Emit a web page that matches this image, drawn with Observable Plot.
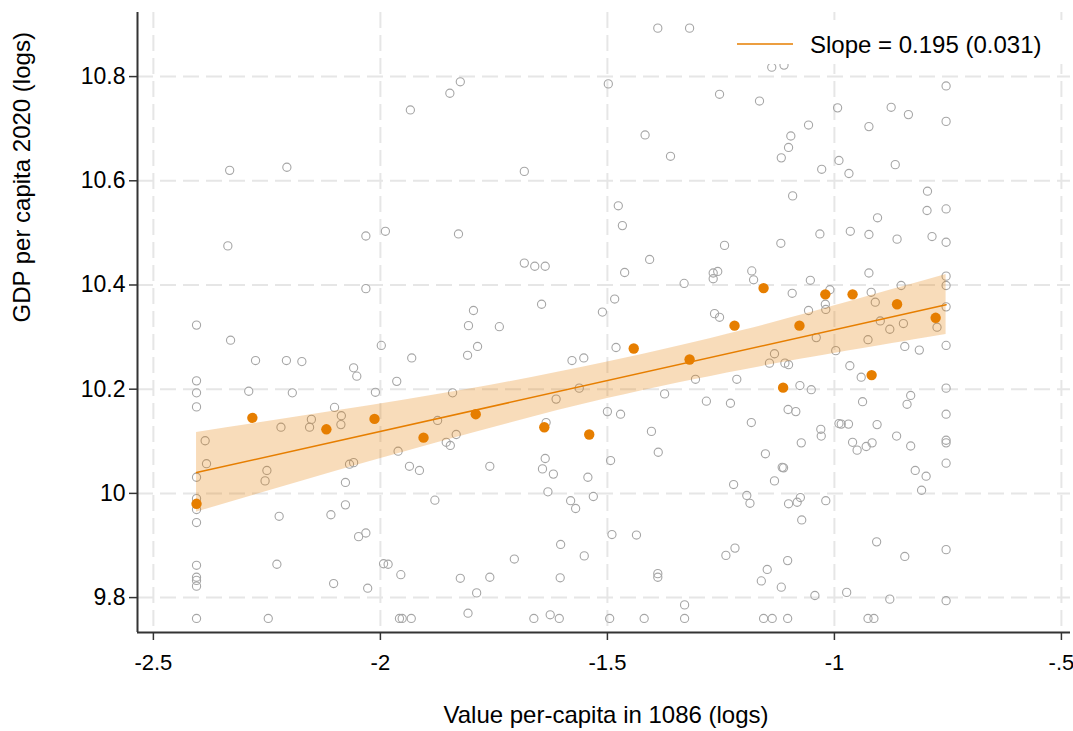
<!DOCTYPE html>
<html>
<head>
<meta charset="utf-8">
<script src="https://cdn.jsdelivr.net/npm/d3@7"></script>
<script src="https://cdn.jsdelivr.net/npm/@observablehq/plot@0.6"></script>
<style>
  html, body { margin: 0; padding: 0; background: white; }
  #wrap { position: relative; width: 1073px; height: 731px; font-family: "Liberation Sans", Arial, sans-serif; }
  #legend { position: absolute; left: 718px; top: 20px; }
</style>
</head>
<body>
<div id="wrap"></div>
<script>
// ---- data ----
const scatterX = [
-2.332,-2.206,-1.824,-1.847,-1.934,-1.683,-1.498,-1.389,-1.319,-1.138,
-1.111,-1.253,-1.165,-0.993,-1.417,-1.361,-1.057,-1.096,-1.101,-1.117,
-1.028,-0.990,-1.092,-1.476,-0.754,-0.875,-0.837,-0.924,-0.754,-0.968,
-0.866,-0.795,-0.796,-0.754,-0.905,-2.336,-2.032,-2.032,-2.405,-2.330,
-2.275,-2.207,-2.173,-2.059,-2.052,-2.405,-2.405,-2.290,-2.194,-2.011,
-2.405,-2.101,-2.086,-2.152,-2.087,-2.156,-2.219,-1.989,-1.828,-1.683,
-1.660,-1.637,-1.645,-1.511,-1.795,-1.806,-1.738,-1.998,-1.786,-1.808,
-1.931,-1.578,-1.552,-1.964,-1.841,-1.562,-1.613,-1.500,-1.874,-1.635,
-1.467,-1.407,-1.462,-1.242,-1.118,-1.032,-1.267,-1.257,-1.267,-1.182,
-1.178,-1.331,-1.053,-1.010,-1.093,-1.484,-1.264,-1.253,-1.057,-1.020,
-1.019,-1.040,-0.997,-1.481,-1.132,-1.143,-1.109,-1.101,-1.306,-1.215,
-1.076,-1.051,-1.374,-1.282,-1.229,-1.471,-1.102,-1.085,-1.183,-1.403,
-1.030,-0.990,-1.029,-1.073,-1.388,-1.493,-1.152,-1.115,-1.112,-1.132,
-1.222,-1.193,-1.186,-1.101,-1.082,-1.075,-1.019,-1.072,-1.490,-1.436,
-1.219,-1.239,-1.103,-1.148,-1.161,-1.117,-1.389,-1.389,-1.043,-1.330,
-1.495,-1.419,-1.330,-1.156,-1.137,-1.103,
-0.965,-0.924,-0.862,-0.785,-0.754,-0.924,-0.754,-0.853,-0.754,-0.919,
-0.910,-0.754,-0.899,-0.878,-0.848,-0.774,-0.926,-0.845,-0.813,-0.754,
-0.966,-0.941,-0.754,-0.832,-0.840,-0.938,-0.754,-0.985,-0.969,-0.906,
-0.863,-0.960,-0.950,-0.930,-0.917,-0.832,-0.754,-0.754,-0.754,-0.822,
-0.798,-0.808,-0.907,-0.845,-0.754,-0.973,-0.878,-0.754,-0.926,-0.913,
-2.386,-2.383,-2.405,-2.250,-2.254,-2.068,-2.059,-2.077,-2.405,-2.405,
-2.405,-2.223,-2.109,-2.077,-2.048,-2.032,-2.405,-2.228,-2.405,-2.405,
-2.405,-2.103,-2.028,-2.405,-2.247,
-1.833,-1.855,-1.846,-1.961,-1.936,-1.914,-1.759,-1.637,-1.643,-1.619,
-1.543,-1.631,-1.880,-1.581,-1.570,-1.531,-1.603,-1.551,-1.705,-1.993,
-1.983,-1.955,-1.824,-1.759,-1.604,-1.788,-1.807,-1.626,-1.958,-1.952,
-1.932,-1.662,-1.606
];
const scatterY = [
10.620,10.626,10.790,10.768,10.736,10.618,10.786,10.893,10.893,10.818,
10.822,10.766,10.753,10.740,10.688,10.647,10.707,10.686,10.664,10.644,
10.622,10.639,10.571,10.552,10.782,10.741,10.727,10.704,10.714,10.614,
10.631,10.580,10.543,10.546,10.529,10.475,10.494,10.393,10.323,10.294,
10.255,10.255,10.253,10.241,10.225,10.216,10.193,10.196,10.193,10.194,
10.166,10.165,10.149,10.142,10.132,10.127,10.127,10.503,10.498,10.442,
10.436,10.436,10.363,10.348,10.351,10.322,10.320,10.284,10.282,10.265,
10.260,10.255,10.260,10.215,10.193,10.202,10.181,10.157,10.140,10.136,
10.514,10.449,10.424,10.476,10.480,10.498,10.423,10.426,10.412,10.427,
10.410,10.403,10.409,10.391,10.384,10.373,10.345,10.338,10.351,10.363,
10.353,10.299,10.274,10.280,10.268,10.250,10.250,10.247,10.219,10.219,
10.207,10.199,10.191,10.177,10.173,10.152,10.161,10.157,10.136,10.119,
10.123,10.134,10.110,10.097,10.079,10.063,10.076,10.050,10.049,10.024,
10.017,9.996,9.981,9.980,9.983,9.992,9.986,9.949,9.921,9.920,
9.895,9.881,9.871,9.854,9.832,9.820,9.846,9.839,9.804,9.786,
9.760,9.760,9.760,9.760,9.760,9.760,
10.503,10.497,10.488,10.493,10.482,10.423,10.417,10.399,10.399,10.386,
10.367,10.358,10.331,10.315,10.326,10.319,10.295,10.282,10.275,10.284,
10.245,10.223,10.202,10.188,10.171,10.176,10.152,10.133,10.133,10.132,
10.110,10.098,10.083,10.090,10.097,10.091,10.102,10.097,10.058,10.044,
10.033,10.006,9.907,9.879,9.892,9.810,9.797,9.794,9.760,9.760,
10.101,10.057,10.031,10.044,10.024,10.056,10.059,10.021,9.990,9.969,
9.944,9.956,9.959,9.978,9.917,9.924,9.862,9.864,9.839,9.833,
9.822,9.827,9.818,9.760,9.760,
10.113,10.098,10.092,10.081,10.052,10.044,10.052,10.067,10.047,10.037,
10.031,10.003,9.987,9.986,9.971,9.994,9.902,9.880,9.874,9.865,
9.864,9.844,9.837,9.839,9.838,9.809,9.770,9.767,9.760,9.760,
9.760,9.760,9.760
];

// binned means (orange)
const binX = [-2.405,-2.282,-2.119,-2.013,-1.905,-1.790,-1.639,-1.540,-1.442,-1.319,-1.220,-1.156,-1.113,-1.077,-1.020,-0.960,-0.918,-0.862,-0.777];
const binY = [9.980,10.145,10.123,10.143,10.107,10.152,10.127,10.113,10.278,10.257,10.322,10.394,10.203,10.322,10.382,10.382,10.227,10.363,10.337];

// fitted line and confidence band
const fitX = [-2.405, -0.754];
const fitY = [10.040, 10.362];
const bandX  = [-2.405, -2.1, -1.8, -1.5, -1.2, -0.95, -0.754];
const bandLo = [9.964, 10.042, 10.115, 10.182, 10.237, 10.276, 10.305];
const bandHi = [10.117, 10.158, 10.201, 10.252, 10.313, 10.372, 10.420];

// axes
const xTicks = [-2.5, -2, -1.5, -1, -0.5];
const xTickLabels = ["-2.5", "-2", "-1.5", "-1", "-.5"];
const yTicks = [9.8, 10, 10.2, 10.4, 10.6, 10.8];
const yTickLabels = ["9.8", "10", "10.2", "10.4", "10.6", "10.8"];
const xDomain = [-2.535, -0.480];
const yDomain = [9.733, 10.923];
const xLabel = "Value per-capita in 1086 (logs)";
const yLabel = "GDP per capita 2020 (logs)";
const legendLabel = "Slope = 0.195 (0.031)";

const orange = "#e67e00";
const grid = {stroke: "#e6e6e6", strokeWidth: 2, strokeDasharray: "16,7"};

const chart = Plot.plot({
  width: 1073,
  height: 731,
  marginLeft: 137,
  marginRight: 3,
  marginTop: 12,
  marginBottom: 99,
  style: {fontFamily: "'Liberation Sans', Arial, sans-serif", fontSize: "23px", color: "#000", background: "white"},
  x: {domain: xDomain},
  y: {domain: yDomain},
  marks: [
    Plot.ruleY(yTicks, grid),
    Plot.ruleX(xTicks, grid),
    Plot.dot({length: scatterX.length}, {x: scatterX, y: scatterY, r: 4.1, stroke: "#a6a6a6", strokeWidth: 1.1, fill: "none"}),
    Plot.areaY(bandX, {x: bandX, y1: bandLo, y2: bandHi, curve: "natural", fill: orange, fillOpacity: 0.27}),
    Plot.line(fitX, {x: fitX, y: fitY, stroke: orange, strokeWidth: 1.5}),
    Plot.dot(binX, {x: binX, y: binY, r: 5.2, fill: orange, stroke: "none"}),
    Plot.ruleX([xDomain[0]], {stroke: "#333", strokeWidth: 2}),
    Plot.ruleY([yDomain[0]], {stroke: "#333", strokeWidth: 2}),
    Plot.axisY(yTicks, {tickFormat: d => yTickLabels[yTicks.indexOf(d)], tickSize: 8, tickPadding: 4, label: null, stroke: "#333", strokeWidth: 1.5, fontSize: 23}),
    Plot.axisX(xTicks, {tickFormat: d => xTickLabels[xTicks.indexOf(d)], tickSize: 8, tickPadding: 14, label: null, stroke: "#333", strokeWidth: 1.5, fontSize: 22}),
    Plot.text([yLabel], {frameAnchor: "left", dx: -115, rotate: -90, fontSize: 24, fill: "#000"}),
    Plot.text([xLabel], {frameAnchor: "bottom", dy: 90, dx: 2, fontSize: 24, fill: "#000"})
  ]
});

const wrap = document.getElementById("wrap");
wrap.appendChild(chart);

// legend box (white, overlaps the plot region like the original)
const ns = "http://www.w3.org/2000/svg";
const lg = document.createElementNS(ns, "svg");
lg.setAttribute("id", "legend");
lg.setAttribute("width", 345);
lg.setAttribute("height", 44);
const bg = document.createElementNS(ns, "rect");
bg.setAttribute("width", 345); bg.setAttribute("height", 44); bg.setAttribute("fill", "white");
lg.appendChild(bg);
const ln = document.createElementNS(ns, "line");
ln.setAttribute("x1", 19); ln.setAttribute("x2", 75); ln.setAttribute("y1", 24); ln.setAttribute("y2", 24);
ln.setAttribute("stroke", orange); ln.setAttribute("stroke-width", 1.5);
lg.appendChild(ln);
const tx = document.createElementNS(ns, "text");
tx.setAttribute("x", 92); tx.setAttribute("y", 24); tx.setAttribute("dominant-baseline", "central");
tx.setAttribute("font-size", "24px"); tx.setAttribute("font-family", "'Liberation Sans', Arial, sans-serif");
tx.textContent = legendLabel;
lg.appendChild(tx);
wrap.appendChild(lg);
</script>
</body>
</html>
